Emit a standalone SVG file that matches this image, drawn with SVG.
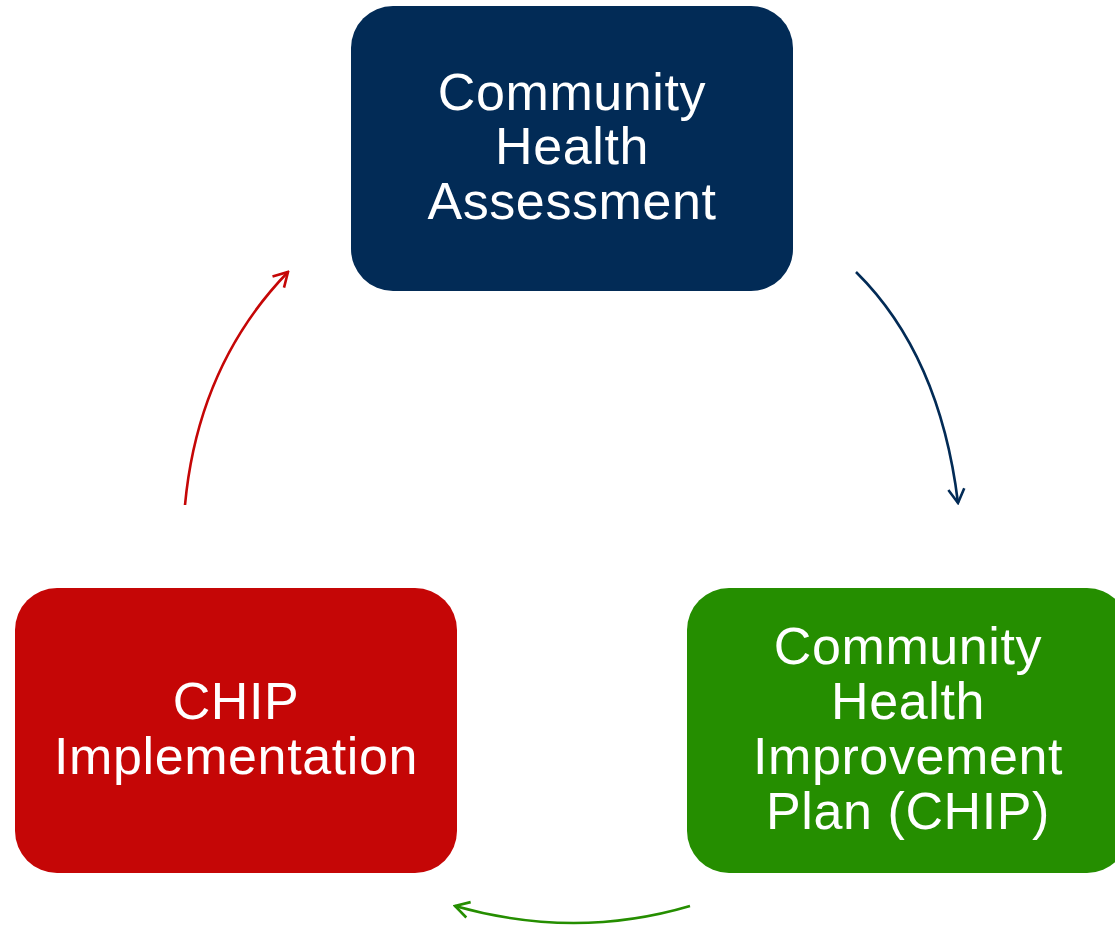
<svg xmlns="http://www.w3.org/2000/svg" width="1115" height="926" viewBox="0 0 1115 926">
<style>
.lbl{font-family:"Liberation Sans",Arial,sans-serif;font-size:52px;letter-spacing:0.6px;fill:#ffffff;text-anchor:middle}
.conn{fill:none;stroke-width:2.6}
</style>
<defs>
<marker id="mNavy" viewBox="0 0 20 20" refX="18" refY="10" markerWidth="20" markerHeight="20" markerUnits="userSpaceOnUse" orient="auto"><path d="M4,2 L18,10 L4,18" fill="none" stroke="#022b56" stroke-width="2.6"/></marker>
<marker id="mRed" viewBox="0 0 20 20" refX="18" refY="10" markerWidth="20" markerHeight="20" markerUnits="userSpaceOnUse" orient="auto"><path d="M4,2 L18,10 L4,18" fill="none" stroke="#c50606" stroke-width="2.6"/></marker>
<marker id="mGreen" viewBox="0 0 20 20" refX="18" refY="10" markerWidth="20" markerHeight="20" markerUnits="userSpaceOnUse" orient="auto"><path d="M4,2 L18,10 L4,18" fill="none" stroke="#258e00" stroke-width="2.6"/></marker>
</defs>
<g id="connectors">
<path class="conn" stroke="#022b56" d="M856,272 Q940,355 958,503" marker-end="url(#mNavy)"/>
<path class="conn" stroke="#c50606" d="M185,505 Q198,365 288,272" marker-end="url(#mRed)"/>
<path class="conn" stroke="#258e00" d="M690,906 Q575,940 455,906" marker-end="url(#mGreen)"/>
</g>
<g id="node-cha">
<rect x="351" y="6" width="442" height="285" rx="42" fill="#022b56"/>
<text class="lbl" x="572" y="110">Community</text>
<text class="lbl" x="572" y="164">Health</text>
<text class="lbl" x="572" y="219">Assessment</text>
</g>
<g id="node-chip">
<rect x="687" y="588" width="442" height="285" rx="42" fill="#258e00"/>
<text class="lbl" x="908" y="664">Community</text>
<text class="lbl" x="908" y="719">Health</text>
<text class="lbl" x="908" y="774">Improvement</text>
<text class="lbl" x="908" y="829">Plan (CHIP)</text>
</g>
<g id="node-impl">
<rect x="15" y="588" width="442" height="285" rx="42" fill="#c50606"/>
<text class="lbl" x="236" y="719">CHIP</text>
<text class="lbl" x="236" y="774">Implementation</text>
</g>
</svg>
